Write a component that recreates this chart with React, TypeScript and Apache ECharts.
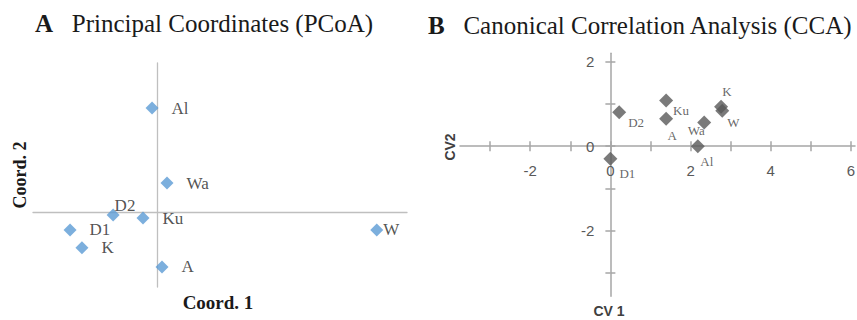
import React, { useEffect, useRef } from "react";
import * as echarts from "echarts";

// ---- Panel A: Principal Coordinates (PCoA) ----
const pcoaNames = ["Al", "Wa", "D2", "Ku", "D1", "K", "A", "W"];
const pcoaX = [-0.018, 0.03, -0.143, -0.047, -0.281, -0.243, 0.014, 0.703];
const pcoaY = [0.349, 0.098, -0.009, -0.019, -0.059, -0.119, -0.183, -0.059];

// ---- Panel B: Canonical Correlation Analysis (CCA) ----
const ccaNames = ["D2", "Ku", "A", "Wa", "W", "K", "Al", "D1"];
const ccaX = [0.22, 1.39, 1.39, 2.34, 2.79, 2.76, 2.18, 0.0];
const ccaY = [0.8, 1.08, 0.65, 0.56, 0.84, 0.93, 0.0, -0.3];

const ccaXTicks = [-3, -2, -1, 0, 1, 2, 3, 4, 5, 6];
const ccaXLabels = [-2, 0, 2, 4, 6];
const ccaYTicks = [-3, -2, -1, 0, 1, 2];
const ccaYLabels = [-2, 0, 2];

const titleA = "A";
const titleAText = "Principal Coordinates (PCoA)";
const titleB = "B";
const titleBText = "Canonical Correlation Analysis (CCA)";

// label placement (style, kept separate from data)
const pcoaLabelPlace: Record<string, any> = {
  D2: { position: "right", distance: 0, offset: [-5, -10] },
  W: { position: "right", distance: 0 },
};
const ccaLabelPlace: Record<string, any> = {
  D2: { position: "right", distance: 2, offset: [0, 10] },
  Ku: { position: "right", distance: 0, offset: [0, 10] },
  A: { position: "bottom", distance: 3, offset: [6, 0] },
  Wa: { position: "inside", offset: [-8, 8] },
  K: { position: "top", distance: 2, offset: [6, 0] },
  W: { position: "right", distance: -2, offset: [0, 12] },
  Al: { position: "bottom", distance: 2, offset: [9, 0] },
  D1: { position: "right", distance: 2, offset: [0, 15] },
};

const SERIF = "'Liberation Serif', 'Times New Roman', serif";
const SANS = "'Liberation Sans', Arial, sans-serif";

// panel B axis ranges
const bXMin = -3.75;
const bXMax = 6.1;
const bYMin = -3.55;
const bYMax = 2.2;

export default function App() {
  const ref = useRef<HTMLDivElement>(null);

  useEffect(() => {
    if (!ref.current) return;
    const chart = echarts.init(ref.current, undefined, { renderer: "svg" });

    const axisA = { color: "#bfbfbf", width: 1.3 };
    const axisB = { color: "#a6a6a6", width: 1.5 };
    const bLabel = { fontFamily: SANS, fontSize: 15, color: "#595959" };

    // grid B geometry
    const gB = { left: 460, top: 53.2, width: 395, height: 243 };
    const zeroXpx = gB.left + ((0 - bXMin) / (bXMax - bXMin)) * gB.width;
    const zeroYpx = gB.top + ((bYMax - 0) / (bYMax - bYMin)) * gB.height;
    const offBottom = -(gB.top + gB.height - zeroYpx);
    const offTop = -(zeroYpx - gB.top);
    const offLeft = -(zeroXpx - gB.left);
    const offRight = -(gB.left + gB.width - zeroXpx);

    const pcoaData = pcoaNames.map((n, i) => ({
      name: n,
      value: [pcoaX[i], pcoaY[i]],
      label: pcoaLabelPlace[n] || { position: "right", distance: 13 },
    }));
    const ccaData = ccaNames.map((n, i) => ({
      name: n,
      value: [ccaX[i], ccaY[i]],
      label: ccaLabelPlace[n],
    }));

    const titleStyle = {
      fontFamily: SERIF,
      fontSize: 25,
      fontWeight: "normal",
      color: "#1a1a1a",
      rich: { b: { fontFamily: SERIF, fontSize: 25, fontWeight: "bold", color: "#1a1a1a" } },
    };

    chart.setOption({
      animation: false,
      backgroundColor: "#ffffff",
      title: [
        { text: `{b|${titleA}}   ${titleAText}`, left: 35, top: 11, padding: 0, textStyle: titleStyle },
        { text: `{b|${titleB}}   ${titleBText}`, left: 428, top: 13, padding: 0, textStyle: titleStyle },
      ],
      grid: [
        { left: 33, top: 63, width: 374, height: 224, outerBoundsMode: "none", containLabel: false },
        { ...gB, outerBoundsMode: "none", containLabel: false },
      ],
      xAxis: [
        {
          gridIndex: 0,
          type: "value",
          min: -0.4,
          max: 0.8,
          axisLine: { onZero: true, lineStyle: axisA },
          axisTick: { show: false },
          axisLabel: { show: false },
          splitLine: { show: false },
        },
        {
          gridIndex: 1,
          type: "value",
          position: "bottom",
          offset: offBottom,
          min: bXMin,
          max: bXMax,
          axisLine: { onZero: false, lineStyle: axisB },
          axisTick: { show: true, length: 5, customValues: ccaXTicks, lineStyle: axisB },
          axisLabel: { customValues: ccaXLabels, margin: 17, ...bLabel },
          splitLine: { show: false },
        },
        {
          gridIndex: 1,
          type: "value",
          position: "top",
          offset: offTop,
          min: bXMin,
          max: bXMax,
          axisLine: { show: false, onZero: false },
          axisTick: { show: true, length: 5, customValues: ccaXTicks, lineStyle: axisB },
          axisLabel: { show: false },
          splitLine: { show: false },
        },
      ],
      yAxis: [
        {
          gridIndex: 0,
          type: "value",
          min: -0.25,
          max: 0.5,
          axisLine: { onZero: true, lineStyle: axisA },
          axisTick: { show: false },
          axisLabel: { show: false },
          splitLine: { show: false },
        },
        {
          gridIndex: 1,
          type: "value",
          position: "left",
          offset: offLeft,
          min: bYMin,
          max: bYMax,
          axisLine: { onZero: false, lineStyle: axisB },
          axisTick: { show: true, length: 5, customValues: ccaYTicks, lineStyle: axisB },
          axisLabel: { customValues: ccaYLabels, margin: 16, ...bLabel },
          splitLine: { show: false },
        },
        {
          gridIndex: 1,
          type: "value",
          position: "right",
          offset: offRight,
          min: bYMin,
          max: bYMax,
          axisLine: { show: false, onZero: false },
          axisTick: { show: true, length: 5, customValues: ccaYTicks, lineStyle: axisB },
          axisLabel: { show: false },
          splitLine: { show: false },
        },
      ],
      series: [
        {
          type: "scatter",
          xAxisIndex: 0,
          yAxisIndex: 0,
          symbol: "diamond",
          symbolSize: 13,
          itemStyle: { color: "#5b9bd5" },
          label: { show: true, formatter: "{b}", fontFamily: SERIF, fontSize: 17, color: "#262626" },
          data: pcoaData,
        },
        {
          type: "scatter",
          xAxisIndex: 1,
          yAxisIndex: 1,
          symbol: "diamond",
          symbolSize: 14,
          itemStyle: { color: "#595959" },
          label: { show: true, formatter: "{b}", fontFamily: SERIF, fontSize: 13, color: "#404040" },
          data: ccaData,
        },
      ],
      graphic: [
        {
          type: "text",
          x: 218,
          y: 302,
          style: {
            text: "Coord. 1",
            font: `bold 19px ${SERIF}`,
            fill: "#1a1a1a",
            textAlign: "center",
            textVerticalAlign: "middle",
          },
        },
        {
          type: "text",
          x: 19.5,
          y: 175,
          rotation: Math.PI / 2,
          style: {
            text: "Coord. 2",
            font: `bold 18px ${SERIF}`,
            fill: "#1a1a1a",
            textAlign: "center",
            textVerticalAlign: "middle",
          },
        },
        {
          type: "text",
          x: 450,
          y: 147,
          rotation: Math.PI / 2,
          style: {
            text: "CV2",
            font: `bold 14px ${SANS}`,
            fill: "#404040",
            textAlign: "center",
            textVerticalAlign: "middle",
          },
        },
        {
          type: "text",
          x: 609,
          y: 311,
          style: {
            text: "CV 1",
            font: `bold 14px ${SANS}`,
            fill: "#404040",
            textAlign: "center",
            textVerticalAlign: "middle",
          },
        },
      ],
    });

    return () => chart.dispose();
  }, []);

  return <div ref={ref} style={{ position: "absolute", left: 0, top: 0, width: 857, height: 320 }} />;
}
